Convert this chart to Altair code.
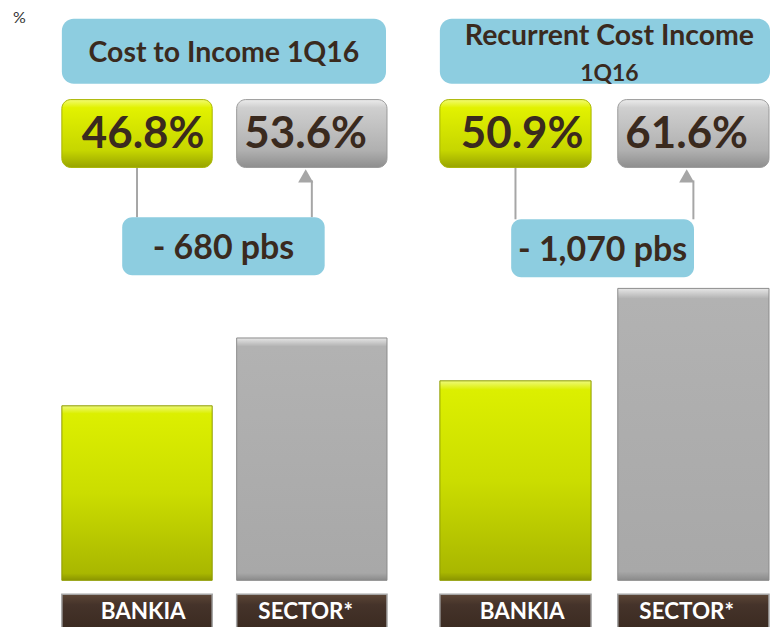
import altair as alt
import pandas as pd

# ---------------- data ----------------
panel_titles = ["Cost to Income 1Q16", "Recurrent Cost Income"]
panel_subtitles = ["", "1Q16"]
entities = ["BANKIA", "SECTOR*"]
cost_to_income = [46.8, 53.6]
recurrent_cost_income = [50.9, 61.6]
unit_label = "%"

# ---------------- layout / style ----------------
H = 632                      # panel height (px)
PANEL_W = [326, 330]         # panel widths
PANEL_PAD = [0.14, 0.15]     # band paddingInner per panel
AXIS_BASE = [(29.3, 10.0), (27.8, 8.66)]  # (value at bar foot, px per point)
BAR_FOOT = 573
TITLE_BOX = [(0, 325), (0, 331)]
TITLE_CX = [162.5, 170]
TITLE_BOX_Y = (10, 75)
VALUE_BOX_Y = (91, 159)
DIFF_BOX_X = [(60.5, 263.5), (71.5, 254.8)]
DIFF_BOX_Y = [(209, 267), (211, 269)]
LABEL_BOX_Y = (587, 640)

FONT = "Lato"
TXT = "#3a2a1e"
BLUE = "#8dcde0"


def vgrad(stops):
    return {"gradient": "linear", "x1": 0, "x2": 0, "y1": 0, "y2": 1,
            "stops": [{"offset": o, "color": c} for o, c in stops]}


GREEN_BAR = vgrad([(0, "#eef97a"), (0.045, "#dcef00"), (0.5, "#cbdd00"), (0.96, "#a9b700"), (1, "#8a9500")])
GRAY_BAR = vgrad([(0, "#e6e6e6"), (0.035, "#b2b2b2"), (0.5, "#adadad"), (0.97, "#a8a8a8"), (1, "#8a8a8a")])
GREEN_BOX = vgrad([(0, "#f2fb70"), (0.12, "#e2f200"), (0.75, "#c6d600"), (1, "#98a400")])
GRAY_BOX = vgrad([(0, "#ececec"), (0.12, "#cfcfcf"), (0.75, "#b0b0b0"), (1, "#8e8e8e")])
BROWN_BOX = vgrad([(0, "#5c4636"), (0.2, "#45332a"), (1, "#33241a")])


def panel(i, values):
    W = PANEL_W[i]
    base, ppu = AXIS_BASE[i]
    ydom = [base - (H - BAR_FOOT) / ppu, base + BAR_FOOT / ppu]

    df = pd.DataFrame({"entity": entities, "value": values})
    df["label"] = [f"{v:.1f}%" for v in values]
    df["base"] = base
    diff_bps = round((values[1] - values[0]) * 100)
    diff_df = pd.DataFrame({"text": [f"- {diff_bps:,} pbs"]})
    title_df = pd.DataFrame({"title": [panel_titles[i]], "sub": [panel_subtitles[i]]})

    pix = alt.Scale(domain=[0, H], reverse=True, nice=False, zero=False)
    xpix = alt.Scale(domain=[0, W], nice=False, zero=False)
    band = alt.Scale(domain=entities, paddingInner=PANEL_PAD[i], paddingOuter=0)

    def xb():
        return alt.X("entity:N", scale=band, axis=None)

    def yp(v):
        return alt.YDatum(v, scale=pix, axis=None)

    is_bankia = alt.datum.entity == entities[0]
    base_chart = alt.Chart(df)

    if i == 0:
        yaxis = alt.Axis(title=unit_label, labels=False, ticks=False, domain=False, grid=False,
                         titleAngle=0, titleAlign="left", titleBaseline="top",
                         titleX=-49.5, titleY=1, titleFont=FONT, titleFontSize=16,
                         titleFontWeight="normal", titleColor="#333333")
    else:
        yaxis = None

    bars = base_chart.mark_bar(strokeWidth=1).encode(
        x=xb(),
        y=alt.Y("value:Q", scale=alt.Scale(domain=ydom, nice=False, zero=False), axis=yaxis),
        y2="base:Q",
        fill=alt.condition(is_bankia, alt.value(GREEN_BAR), alt.value(GRAY_BAR)),
        stroke=alt.condition(is_bankia, alt.value("#8f9c00"), alt.value("#8c8c8c")),
    )

    value_boxes = base_chart.mark_bar(cornerRadius=9, strokeWidth=1).encode(
        x=xb(), y=yp(VALUE_BOX_Y[0]), y2=alt.Y2Datum(VALUE_BOX_Y[1]),
        fill=alt.condition(is_bankia, alt.value(GREEN_BOX), alt.value(GRAY_BOX)),
        stroke=alt.condition(is_bankia, alt.value("#a8b400"), alt.value("#9a9a9a")),
    )
    value_text = base_chart.mark_text(font=FONT, fontWeight="bold", fontSize=44,
                                      color=TXT, baseline="alphabetic", align="center").encode(
        x=xb(), y=yp(140), text="label:N")

    label_boxes = base_chart.mark_bar(stroke="#a5a5a5", strokeWidth=1.5).encode(
        x=xb(), y=yp(LABEL_BOX_Y[0]), y2=alt.Y2Datum(LABEL_BOX_Y[1]),
        fill=alt.value(BROWN_BOX))
    label_text = base_chart.mark_text(font=FONT, fontWeight="bold", fontSize=22.5,
                                      color="white", baseline="alphabetic").encode(
        x=xb(), y=yp(612), text="entity:N")

    dtop, dbot = DIFF_BOX_Y[i]
    conn_a = base_chart.transform_filter(is_bankia).mark_rule(color="#a6a6a6", strokeWidth=2).encode(
        x=xb(), y=yp(VALUE_BOX_Y[1]), y2=alt.Y2Datum(dtop))
    conn_b = base_chart.transform_filter(~is_bankia).mark_rule(color="#a6a6a6", strokeWidth=2).encode(
        x=xb(), y=yp(172), y2=alt.Y2Datum(dtop))
    arrow = base_chart.transform_filter(~is_bankia).mark_point(
        shape="triangle-up", filled=True, size=230, color="#a6a6a6", opacity=1).encode(
        x=xb(), y=yp(167.5))

    tb0, tb1 = TITLE_BOX[i]
    title_box = alt.Chart(title_df).mark_rect(cornerRadius=12, fill=BLUE).encode(
        x=alt.XDatum(tb0, scale=xpix, axis=None), x2=alt.X2Datum(tb1),
        y=yp(TITLE_BOX_Y[0]), y2=alt.Y2Datum(TITLE_BOX_Y[1]))
    cx = TITLE_CX[i]
    if panel_subtitles[i]:
        title_text = alt.Chart(title_df).mark_text(font=FONT, fontWeight="bold", fontSize=28.5,
                                                   color=TXT, baseline="alphabetic").encode(
            x=alt.XDatum(cx, scale=xpix, axis=None), y=yp(36.5), text="title:N")
        sub_text = alt.Chart(title_df).mark_text(font=FONT, fontWeight="bold", fontSize=23,
                                                 color=TXT, baseline="alphabetic").encode(
            x=alt.XDatum(cx, scale=xpix, axis=None), y=yp(72), text="sub:N")
        titles = [title_text, sub_text]
    else:
        title_text = alt.Chart(title_df).mark_text(font=FONT, fontWeight="bold", fontSize=28.5,
                                                   color=TXT, baseline="alphabetic").encode(
            x=alt.XDatum(cx, scale=xpix, axis=None), y=yp(53.7), text="title:N")
        titles = [title_text]

    d0, d1 = DIFF_BOX_X[i]
    diff_box = alt.Chart(diff_df).mark_rect(cornerRadius=10, fill=BLUE).encode(
        x=alt.XDatum(d0, scale=xpix, axis=None), x2=alt.X2Datum(d1),
        y=yp(dtop), y2=alt.Y2Datum(dbot))
    diff_text = alt.Chart(diff_df).mark_text(font=FONT, fontWeight="bold", fontSize=34,
                                             color=TXT, baseline="alphabetic").encode(
        x=alt.XDatum((d0 + d1) / 2, scale=xpix, axis=None), y=yp(dtop + 41.5), text="text:N")

    layers = [bars, title_box] + titles + [conn_a, conn_b, arrow, value_boxes, value_text,
                                           diff_box, diff_text, label_boxes, label_text]
    return alt.layer(*layers).resolve_scale(x="independent", y="independent").properties(
        width=W, height=H)


chart = alt.hconcat(
    panel(0, cost_to_income),
    panel(1, recurrent_cost_income),
    spacing=51,
).properties(
    padding={"left": 4, "top": 0, "right": 0, "bottom": 0},
    background="white",
).configure_view(stroke=None)

chart.save("out.html", embed_options={"renderer": "svg", "actions": False})
